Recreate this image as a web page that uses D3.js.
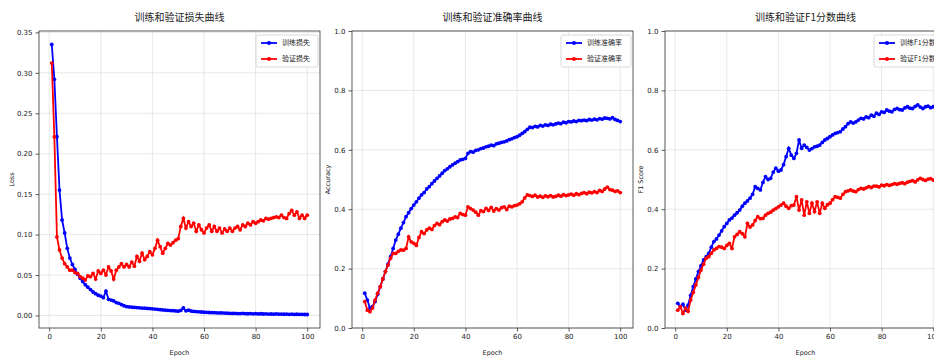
<!DOCTYPE html>
<html>
<head>
<meta charset="utf-8">
<script src="https://cdn.jsdelivr.net/npm/d3@7"></script>
<style>
  body { margin: 0; background: #fff; overflow: hidden; }
  svg { display: block; }
  .axis text { font-family: "DejaVu Sans", sans-serif; font-size: 7px; fill: #222; }
  .axis path, .axis line { stroke: #333; stroke-width: 0.8; }
  .grid line { stroke: #b0b0b0; stroke-opacity: 0.35; stroke-width: 0.8; }
  .title { font-family: "Noto Sans CJK SC", sans-serif; font-size: 10px; fill: #222; }
  .label { font-family: "DejaVu Sans", sans-serif; font-size: 6.5px; fill: #222; }
  .legend text { font-family: "Noto Sans CJK SC", sans-serif; font-size: 7px; fill: #222; }
</style>
</head>
<body>
<div id="chart"></div>
<script>
// epochs 1..100
const epochs = d3.range(1, 101);

const trainLoss = [0.335, 0.292, 0.221, 0.155, 0.118, 0.102, 0.083, 0.071, 0.063, 0.057,
  0.051, 0.046, 0.042, 0.038, 0.035, 0.032, 0.029, 0.027, 0.025, 0.024,
  0.022, 0.030, 0.020, 0.019, 0.018, 0.016, 0.015, 0.0135, 0.012, 0.011,
  0.0106, 0.0102, 0.010, 0.0098, 0.0094, 0.0092, 0.009, 0.0087, 0.0085, 0.0082,
  0.0079, 0.0076, 0.0072, 0.0069, 0.0066, 0.0064, 0.0061, 0.0059, 0.0056, 0.0053,
  0.0062, 0.0094, 0.0058, 0.0066, 0.0055, 0.0050, 0.0048, 0.0045, 0.0043, 0.0040,
  0.0039, 0.0037, 0.0036, 0.0035, 0.0033, 0.0032, 0.0031, 0.0029, 0.0028, 0.0026,
  0.0025, 0.0027, 0.0024, 0.0023, 0.0026, 0.0022, 0.0021, 0.0023, 0.0020, 0.0022,
  0.0019, 0.0021, 0.0018, 0.0020, 0.0017, 0.0018, 0.0016, 0.0019, 0.0016, 0.0017,
  0.0015, 0.0017, 0.0014, 0.0016, 0.0013, 0.0015, 0.0013, 0.0014, 0.0012, 0.0012];

const valLoss = [0.312, 0.221, 0.097, 0.081, 0.071, 0.064, 0.060, 0.056, 0.056, 0.053,
  0.052, 0.048, 0.046, 0.044, 0.049, 0.048, 0.052, 0.045, 0.055, 0.052,
  0.056, 0.050, 0.060, 0.055, 0.045, 0.056, 0.060, 0.064, 0.060, 0.063,
  0.060, 0.066, 0.061, 0.073, 0.067, 0.077, 0.069, 0.073, 0.079, 0.075,
  0.083, 0.093, 0.085, 0.077, 0.083, 0.089, 0.087, 0.090, 0.093, 0.095,
  0.110, 0.120, 0.108, 0.116, 0.110, 0.114, 0.104, 0.112, 0.106, 0.102,
  0.108, 0.112, 0.104, 0.110, 0.104, 0.108, 0.102, 0.107, 0.104, 0.108,
  0.104, 0.108, 0.110, 0.106, 0.112, 0.110, 0.114, 0.112, 0.116, 0.114,
  0.116, 0.118, 0.117, 0.120, 0.119, 0.120, 0.121, 0.122, 0.121, 0.124,
  0.121, 0.120, 0.126, 0.130, 0.124, 0.128, 0.120, 0.124, 0.120, 0.124];

const trainAcc = [0.117, 0.094, 0.067, 0.072, 0.089, 0.114, 0.139, 0.165, 0.190, 0.215,
  0.240, 0.268, 0.296, 0.316, 0.336, 0.355, 0.375, 0.388, 0.402, 0.414,
  0.425, 0.437, 0.448, 0.456, 0.468, 0.476, 0.486, 0.495, 0.504, 0.512,
  0.521, 0.530, 0.536, 0.543, 0.549, 0.555, 0.560, 0.566, 0.568, 0.571,
  0.588, 0.594, 0.592, 0.598, 0.600, 0.604, 0.606, 0.610, 0.612, 0.616,
  0.614, 0.620, 0.622, 0.625, 0.627, 0.630, 0.634, 0.637, 0.641, 0.644,
  0.649, 0.655, 0.661, 0.669, 0.676, 0.675, 0.679, 0.677, 0.682, 0.680,
  0.684, 0.682, 0.686, 0.684, 0.687, 0.690, 0.688, 0.693, 0.691, 0.695,
  0.694, 0.697, 0.695, 0.699, 0.698, 0.700, 0.698, 0.702, 0.700, 0.703,
  0.701, 0.705, 0.703, 0.707, 0.706, 0.704, 0.708, 0.702, 0.699, 0.695];

const valAcc = [0.089, 0.060, 0.055, 0.067, 0.094, 0.117, 0.139, 0.165, 0.190, 0.212,
  0.235, 0.251, 0.251, 0.258, 0.263, 0.262, 0.268, 0.307, 0.290, 0.285,
  0.278, 0.305, 0.324, 0.318, 0.330, 0.336, 0.332, 0.345, 0.352, 0.348,
  0.358, 0.364, 0.360, 0.367, 0.369, 0.374, 0.372, 0.386, 0.382, 0.380,
  0.408, 0.402, 0.397, 0.390, 0.380, 0.395, 0.392, 0.403, 0.396, 0.406,
  0.394, 0.402, 0.397, 0.405, 0.408, 0.399, 0.410, 0.408, 0.412, 0.414,
  0.418, 0.425, 0.438, 0.448, 0.446, 0.443, 0.447, 0.441, 0.444, 0.440,
  0.445, 0.442, 0.446, 0.441, 0.443, 0.447, 0.444, 0.449, 0.446, 0.448,
  0.451, 0.447, 0.452, 0.449, 0.453, 0.456, 0.452, 0.457, 0.455, 0.459,
  0.456, 0.463, 0.460, 0.468, 0.474, 0.466, 0.464, 0.460, 0.462, 0.456];

const trainF1 = [0.083, 0.072, 0.080, 0.060, 0.077, 0.110, 0.139, 0.165, 0.190, 0.210,
  0.229, 0.240, 0.251, 0.272, 0.291, 0.300, 0.313, 0.327, 0.341, 0.352,
  0.364, 0.370, 0.380, 0.388, 0.397, 0.410, 0.420, 0.428, 0.437, 0.450,
  0.476, 0.470, 0.465, 0.490, 0.510, 0.500, 0.504, 0.525, 0.538, 0.528,
  0.532, 0.550, 0.577, 0.605, 0.582, 0.571, 0.588, 0.633, 0.605, 0.616,
  0.608, 0.599, 0.604, 0.610, 0.612, 0.616, 0.625, 0.633, 0.638, 0.644,
  0.650, 0.655, 0.658, 0.661, 0.670, 0.678, 0.688, 0.694, 0.690, 0.694,
  0.700, 0.706, 0.704, 0.711, 0.708, 0.717, 0.713, 0.723, 0.719, 0.728,
  0.726, 0.734, 0.730, 0.728, 0.736, 0.739, 0.735, 0.734, 0.741, 0.745,
  0.740, 0.739, 0.746, 0.751, 0.744, 0.739, 0.745, 0.747, 0.742, 0.745];

const valF1 = [0.060, 0.072, 0.049, 0.067, 0.056, 0.094, 0.120, 0.145, 0.170, 0.195,
  0.215, 0.235, 0.240, 0.252, 0.263, 0.268, 0.274, 0.272, 0.268, 0.278,
  0.285, 0.268, 0.307, 0.315, 0.324, 0.318, 0.307, 0.352, 0.340, 0.347,
  0.362, 0.375, 0.368, 0.369, 0.380, 0.386, 0.390, 0.397, 0.402, 0.408,
  0.414, 0.420, 0.410, 0.403, 0.412, 0.414, 0.442, 0.397, 0.431, 0.380,
  0.425, 0.386, 0.420, 0.392, 0.425, 0.386, 0.420, 0.403, 0.415, 0.420,
  0.432, 0.442, 0.440, 0.437, 0.450, 0.459, 0.462, 0.465, 0.461, 0.459,
  0.466, 0.470, 0.468, 0.472, 0.476, 0.473, 0.478, 0.478, 0.475, 0.481,
  0.479, 0.483, 0.480, 0.483, 0.486, 0.484, 0.487, 0.489, 0.486, 0.491,
  0.494, 0.496, 0.492, 0.499, 0.504, 0.500, 0.497, 0.501, 0.503, 0.498];

const xTicks = [0, 20, 40, 60, 80, 100];
const lossTicks = [0, 0.05, 0.10, 0.15, 0.20, 0.25, 0.30, 0.35];
const unitTicks = [0, 0.2, 0.4, 0.6, 0.8, 1.0];

const panels = [
  { title: "训练和验证损失曲线", ylabel: "Loss", train: trainLoss, val: valLoss,
    names: ["训练损失", "验证损失"], yticks: lossTicks, fmt: ".2f", auto: true },
  { title: "训练和验证准确率曲线", ylabel: "Accuracy", train: trainAcc, val: valAcc,
    names: ["训练准确率", "验证准确率"], yticks: unitTicks, fmt: ".1f", ydomain: [0, 1] },
  { title: "训练和验证F1分数曲线", ylabel: "F1 Score", train: trainF1, val: valF1,
    names: ["训练F1分数", "验证F1分数"], yticks: unitTicks, fmt: ".1f", ydomain: [0, 1] }
];

const W = 934, H = 360;
const plotTop = 31, plotBottom = 328, pw = 281, step = 313, left0 = 39;
const colors = ["#0000ff", "#ff0000"];

const svg = d3.select("#chart").append("svg").attr("width", W).attr("height", H);

// matplotlib-like 5% padding for autoscaled axes
function padded(ext) {
  const r = ext[1] - ext[0];
  return [ext[0] - r * 0.05, ext[1] + r * 0.05];
}

panels.forEach((p, i) => {
  const left = left0 + i * step;
  const x = d3.scaleLinear().domain(padded(d3.extent(epochs))).range([left, left + pw]);
  const yd = p.auto ? padded(d3.extent(p.train.concat(p.val))) : p.ydomain;
  const y = d3.scaleLinear().domain(yd).range([plotBottom, plotTop]);

  const g = svg.append("g");

  // grid
  const grid = g.append("g").attr("class", "grid");
  grid.selectAll(".gx").data(xTicks).enter().append("line")
    .attr("x1", d => x(d)).attr("x2", d => x(d)).attr("y1", plotTop).attr("y2", plotBottom);
  grid.selectAll(".gy").data(p.yticks).enter().append("line")
    .attr("x1", left).attr("x2", left + pw).attr("y1", d => y(d)).attr("y2", d => y(d));

  // series
  [p.train, p.val].forEach((vals, k) => {
    const pts = epochs.map((e, j) => [e, vals[j]]);
    g.append("path").datum(pts)
      .attr("fill", "none").attr("stroke", colors[k]).attr("stroke-width", 1.8)
      .attr("d", d3.line().x(d => x(d[0])).y(d => y(d[1])));
    g.selectAll(".m" + k).data(pts).enter().append("circle")
      .attr("cx", d => x(d[0])).attr("cy", d => y(d[1])).attr("r", 1.9)
      .attr("fill", colors[k]);
  });

  // frame
  g.append("rect").attr("x", left).attr("y", plotTop).attr("width", pw).attr("height", plotBottom - plotTop)
    .attr("fill", "none").attr("stroke", "#333").attr("stroke-width", 0.8);

  // axes
  g.append("g").attr("class", "axis").attr("transform", `translate(0,${plotBottom})`)
    .call(d3.axisBottom(x).tickValues(xTicks).tickFormat(d3.format("d")).tickSize(3.5).tickPadding(3))
    .call(a => a.select(".domain").remove());
  g.append("g").attr("class", "axis").attr("transform", `translate(${left},0)`)
    .call(d3.axisLeft(y).tickValues(p.yticks).tickFormat(d3.format(p.fmt)).tickSize(3.5).tickPadding(3))
    .call(a => a.select(".domain").remove());

  // texts
  g.append("text").attr("class", "title").attr("x", left + pw / 2).attr("y", 21)
    .attr("text-anchor", "middle").text(p.title);
  g.append("text").attr("class", "label").attr("x", left + pw / 2).attr("y", 355)
    .attr("text-anchor", "middle").text("Epoch");
  const ylx = i === 0 ? 14 : left - 22;
  g.append("text").attr("class", "label")
    .attr("transform", `translate(${ylx},${(plotTop + plotBottom) / 2}) rotate(-90)`)
    .attr("text-anchor", "middle").text(p.ylabel);

  // legend
  const lw = i === 0 ? 62 : 70;
  const lg = g.append("g").attr("class", "legend")
    .attr("transform", `translate(${left + pw - lw - 2},${plotTop + 4})`);
  lg.append("rect").attr("width", lw).attr("height", 32).attr("rx", 2)
    .attr("fill", "#fff").attr("fill-opacity", 0.8).attr("stroke", "#d0d0d0").attr("stroke-width", 0.8);
  p.names.forEach((n, k) => {
    const yy = 8 + k * 16;
    lg.append("line").attr("x1", 5).attr("x2", 21).attr("y1", yy).attr("y2", yy)
      .attr("stroke", colors[k]).attr("stroke-width", 1.8);
    lg.append("circle").attr("cx", 13).attr("cy", yy).attr("r", 2).attr("fill", colors[k]);
    lg.append("text").attr("x", 26).attr("y", yy).attr("dy", "0.35em").text(n);
  });
});
</script>
</body>
</html>
